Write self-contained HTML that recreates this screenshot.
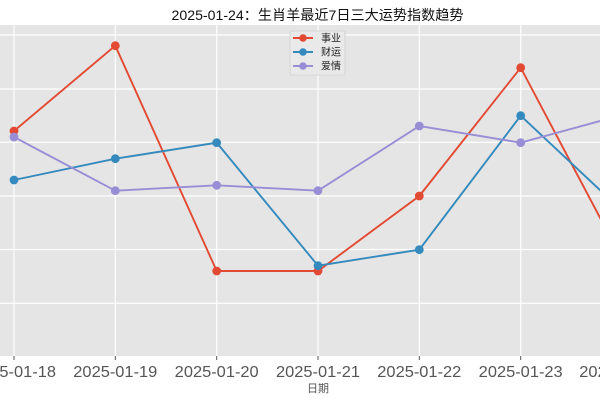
<!DOCTYPE html>
<html>
<head>
<meta charset="utf-8">
<style>
html,body{margin:0;padding:0;background:#fff;}
svg{display:block;}
text{font-family:"Liberation Sans","WenQuanYi Zen Hei","Noto Sans CJK SC",sans-serif;}
.tk{font-family:"WenQuanYi Zen Hei","Liberation Sans",sans-serif;}
</style>
</head>
<body>
<svg width="600" height="400" viewBox="0 0 600 400" xmlns="http://www.w3.org/2000/svg">
  <rect x="0" y="0" width="600" height="400" fill="#ffffff"/>
  <rect x="-17" y="25" width="670" height="331" fill="#E5E5E5"/>
  <g stroke="#ffffff" stroke-width="1.2">
    <line x1="-17" y1="35" x2="653" y2="35"/>
    <line x1="-17" y1="89" x2="653" y2="89"/>
    <line x1="-17" y1="142.3" x2="653" y2="142.3"/>
    <line x1="-17" y1="196" x2="653" y2="196"/>
    <line x1="-17" y1="249.5" x2="653" y2="249.5"/>
    <line x1="-17" y1="303.3" x2="653" y2="303.3"/>
  </g>
  <g stroke="#ffffff" stroke-width="1.2">
    <line x1="14" y1="25" x2="14" y2="356"/>
    <line x1="115.3" y1="25" x2="115.3" y2="356"/>
    <line x1="216.7" y1="25" x2="216.7" y2="356"/>
    <line x1="318" y1="25" x2="318" y2="356"/>
    <line x1="419.3" y1="25" x2="419.3" y2="356"/>
    <line x1="520.7" y1="25" x2="520.7" y2="356"/>
  </g>
  <g stroke="#555555" stroke-width="1">
    <line x1="14" y1="356" x2="14" y2="360"/>
    <line x1="115.3" y1="356" x2="115.3" y2="360"/>
    <line x1="216.7" y1="356" x2="216.7" y2="360"/>
    <line x1="318" y1="356" x2="318" y2="360"/>
    <line x1="419.3" y1="356" x2="419.3" y2="360"/>
    <line x1="520.7" y1="356" x2="520.7" y2="360"/>
  </g>

  <polyline fill="none" stroke="#E24A33" stroke-width="1.9" points="14,131 115.3,45.7 216.7,271 318,271 419.3,196 520.7,67.7 621.3,258"/>
  <g fill="#E24A33">
    <circle cx="14" cy="131" r="4.4"/>
    <circle cx="115.3" cy="45.7" r="4.4"/>
    <circle cx="216.7" cy="271" r="4.4"/>
    <circle cx="318" cy="271" r="4.4"/>
    <circle cx="419.3" cy="196" r="4.4"/>
    <circle cx="520.7" cy="67.7" r="4.4"/>
  </g>
  <polyline fill="none" stroke="#348ABD" stroke-width="1.9" points="14,180 115.3,158.7 216.7,142.7 318,265.7 419.3,249.7 520.7,115.7 621.3,210"/>
  <g fill="#348ABD">
    <circle cx="14" cy="180" r="4.4"/>
    <circle cx="115.3" cy="158.7" r="4.4"/>
    <circle cx="216.7" cy="142.7" r="4.4"/>
    <circle cx="318" cy="265.7" r="4.4"/>
    <circle cx="419.3" cy="249.7" r="4.4"/>
    <circle cx="520.7" cy="115.7" r="4.4"/>
  </g>
  <polyline fill="none" stroke="#988ED5" stroke-width="1.9" points="14,137 115.3,190.7 216.7,185.3 318,190.7 419.3,126 520.7,142.7 621.3,115.2"/>
  <g fill="#988ED5">
    <circle cx="14" cy="137" r="4.4"/>
    <circle cx="115.3" cy="190.7" r="4.4"/>
    <circle cx="216.7" cy="185.3" r="4.4"/>
    <circle cx="318" cy="190.7" r="4.4"/>
    <circle cx="419.3" cy="126" r="4.4"/>
    <circle cx="520.7" cy="142.7" r="4.4"/>
  </g>

  <rect x="290" y="31" width="55" height="44" rx="2" fill="#E9E9E9" stroke="#D0D0D0" stroke-width="0.8"/>
  <line x1="293" y1="38" x2="313" y2="38" stroke="#E24A33" stroke-width="1.9"/>
  <circle cx="303" cy="38" r="3.8" fill="#E24A33"/>
  <line x1="293" y1="52" x2="313" y2="52" stroke="#348ABD" stroke-width="1.9"/>
  <circle cx="303" cy="52" r="3.8" fill="#348ABD"/>
  <line x1="293" y1="66" x2="313" y2="66" stroke="#988ED5" stroke-width="1.9"/>
  <circle cx="303" cy="66" r="3.8" fill="#988ED5"/>
  <g font-size="10" fill="#222222">
    <text x="321" y="41.5">事业</text>
    <text x="321" y="55.5">财运</text>
    <text x="321" y="69.5">爱情</text>
  </g>

  <text x="317.5" y="20" font-size="14" text-anchor="middle" fill="#111111" textLength="292" lengthAdjust="spacingAndGlyphs">2025-01-24：生肖羊最近7日三大运势指数趋势</text>

  <g class="tk" font-size="16" fill="#555555" text-anchor="middle">
    <text x="14" y="377" textLength="84" lengthAdjust="spacingAndGlyphs">2025-01-18</text>
    <text x="115.3" y="377" textLength="84" lengthAdjust="spacingAndGlyphs">2025-01-19</text>
    <text x="216.7" y="377" textLength="84" lengthAdjust="spacingAndGlyphs">2025-01-20</text>
    <text x="318" y="377" textLength="84" lengthAdjust="spacingAndGlyphs">2025-01-21</text>
    <text x="419.3" y="377" textLength="84" lengthAdjust="spacingAndGlyphs">2025-01-22</text>
    <text x="520.7" y="377" textLength="84" lengthAdjust="spacingAndGlyphs">2025-01-23</text>
    <text x="621.3" y="377" textLength="84" lengthAdjust="spacingAndGlyphs">2025-01-24</text>
  </g>

  <text x="318" y="392" font-size="11" fill="#555555" text-anchor="middle">日期</text>
</svg>
</body>
</html>
